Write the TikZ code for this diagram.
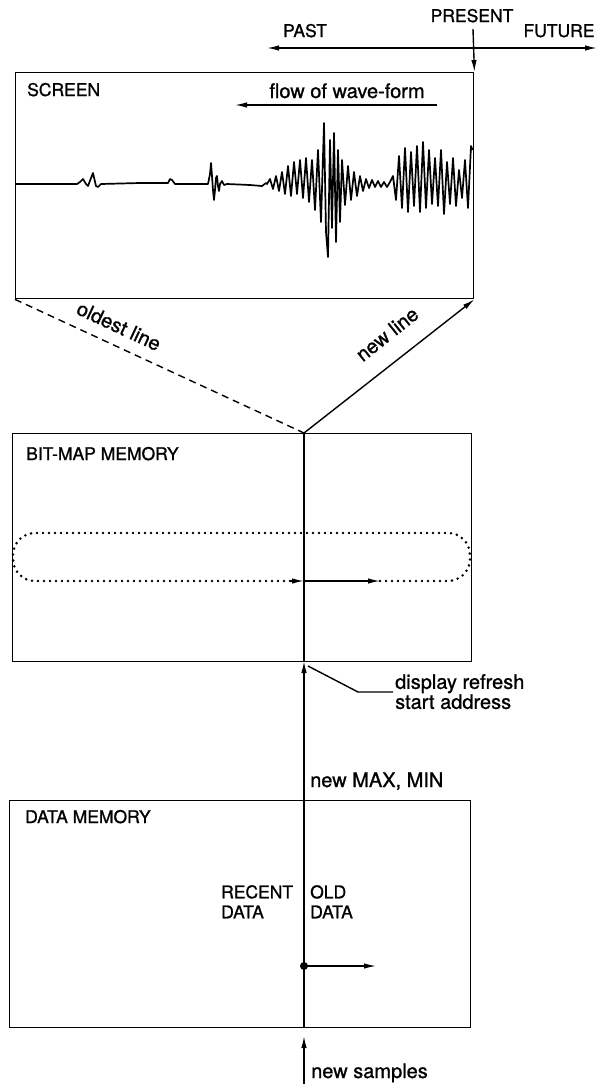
\documentclass[tikz,border=0pt]{standalone}
\usepackage{fontspec}
\setmainfont{TeX Gyre Heros}[FakeBold=1.0]
\usetikzlibrary{arrows.meta}
\tikzset{
  caps/.style={font=\fontsize{17.5}{20}\selectfont, inner sep=0pt},
  lower/.style={font=\fontsize{20}{20}\selectfont, inner sep=0pt},
  box/.style={draw, line width=1.4pt, rectangle, inner sep=0pt, anchor=north west},
  ln/.style={line width=1.4pt},
  arr/.style={line width=1.4pt, -{Latex[length=12pt,width=5.5pt]}},
  darr/.style={line width=1.4pt, {Latex[length=12pt,width=5.5pt]}-{Latex[length=12pt,width=5.5pt]}},
  dots/.style={line width=2.8pt, line cap=round, dash pattern=on 0pt off 6pt},
  wave/.style={line width=1.7pt, line join=round},
}
\begin{document}
\begin{tikzpicture}[x=1pt,y=-1pt]
\useasboundingbox (0,0) rectangle (598,1084);

% top time axis
\node[caps, anchor=base] (past) at (305,37) {PAST};
\node[caps, anchor=base] (future) at (559,37) {FUTURE};
\node[caps, anchor=base] (present) at (472,22) {PRESENT};
\coordinate (pastend) at (267,48);
\coordinate (futend) at (597,48);
\draw[darr] (pastend) -- (futend);
\coordinate (p0) at (473,29);

% boxes
\node[box, minimum width=458pt, minimum height=226pt] (screen) at (15,72) {};
\node[box, minimum width=459pt, minimum height=228pt] (bitmap) at (12,433) {};
\node[box, minimum width=461pt, minimum height=227pt] (datamem) at (9,800) {};

\draw[arr] (p0) -- (screen.north east);

% screen contents
\node[caps, anchor=base west] (scrlab) at (27,96) {SCREEN};
\node[lower, anchor=base] (flow) at (347,98) {flow of wave-form};
\coordinate (flowA) at (437,105);
\coordinate (flowB) at (235,105);
\draw[arr] (flowA) -- (flowB);

\draw[wave] plot[sharp plot] coordinates {
(16,184) (77,184) (80,182) (83,179) (86,184) (88,186) (91,178) (93,173) (96,186) (98,187) (101,184)
(140,183) (168,183) (170,179) (172,180) (175,184) (208,184) (210,174) (211,163) (212,176) (213,190)
(214,200) (215,190) (216,178) (217,176) (218,186) (219,191) (220,184) (222,181) (224,185) (227,184)
(250,185) (262,186) (266,183)
(267,184) (270,179) (273,189) (276,176) (279,191) (282,172) (285,194) (288,166) (291,196) (294,162)
(297,194) (300,160) (303,198) (306,158) (309,202) (312,160) (315,210) (318,150) (321,222)
(324,123) (326,232) (328,257) (330,140) (332,228) (334,133) (336,242) (338,150) (340,222) (342,160)
(345,205) (348,166) (351,200) (354,172) (357,196) (360,176) (363,191) (366,179) (369,188) (372,180)
(375,187) (378,181) (381,187) (384,182) (387,187) (390,182) (393,176)
(396,200) (399,156) (402,208) (405,148) (408,212) (411,152) (414,206) (417,146) (420,212) (423,142)
(426,208) (429,150) (432,204) (435,158) (438,206) (441,150) (444,214) (447,162) (450,204) (453,158)
(456,206) (459,170) (462,198) (465,160) (468,208) (471,146) (472.5,150)
};

% mapping lines
\coordinate (bmT) at (304,433);
\coordinate (bmB) at (304,661);
\draw[ln, dash pattern=on 7pt off 5pt] (screen.south west) -- (bmT);
\draw[arr] (bmT) -- (screen.south east);
\node[lower, rotate=-25] (oldest) at (119,326) {oldest line};
\node[lower, rotate=38.6] (newline) at (387,334) {new line};

% bit-map memory
\node[caps, anchor=base west] (bmlab) at (26,460) {BIT-MAP MEMORY};
\draw[ln] (bmT) -- (bmB);
\coordinate (loopA) at (380,581);
\coordinate (loopB) at (304,581);
\coordinate (loopR) at (470,533);
\coordinate (loopL) at (13,581);
\coordinate (loopE) at (290,581);
\draw[dots, rounded corners=22pt] (loopA) -| (loopR) -| (loopL) -- (loopE);
\draw[arr] (loopE) -- (loopB);
\draw[arr] (loopB) -- (loopA);

% data memory
\coordinate (dmT) at (304,800);
\coordinate (dmB) at (304,1027);
\draw[arr] (dmT) -- (bmB);
\node[lower, anchor=base west] (maxmin) at (310,787) {new MAX, MIN};
\coordinate (dr0) at (308,666);
\coordinate (dr1) at (358,692);
\coordinate (dr2) at (393,692);
\draw[ln] (dr0) -- (dr1) -- (dr2);
\node[lower, anchor=north west, align=left] (disp) at (395,674) {display refresh\\start address};

\node[caps, anchor=base west] (dmlab) at (25,823) {DATA MEMORY};
\draw[ln] (dmT) -- (dmB);
\node[caps, anchor=north west, align=left] (recent) at (221,885) {RECENT\\DATA};
\node[caps, anchor=north west, align=left] (old) at (310,885) {OLD\\DATA};
\coordinate (ptr) at (304,966);
\coordinate (ptrE) at (376,966);
\fill (ptr) circle (4pt);
\draw[arr] (ptr) -- (ptrE);

\coordinate (ns0) at (304,1084);
\coordinate (ns1) at (304,1036);
\draw[arr] (ns0) -- (ns1);
\node[lower, anchor=base west] (samples) at (311,1078) {new samples};
\end{tikzpicture}
\end{document}
